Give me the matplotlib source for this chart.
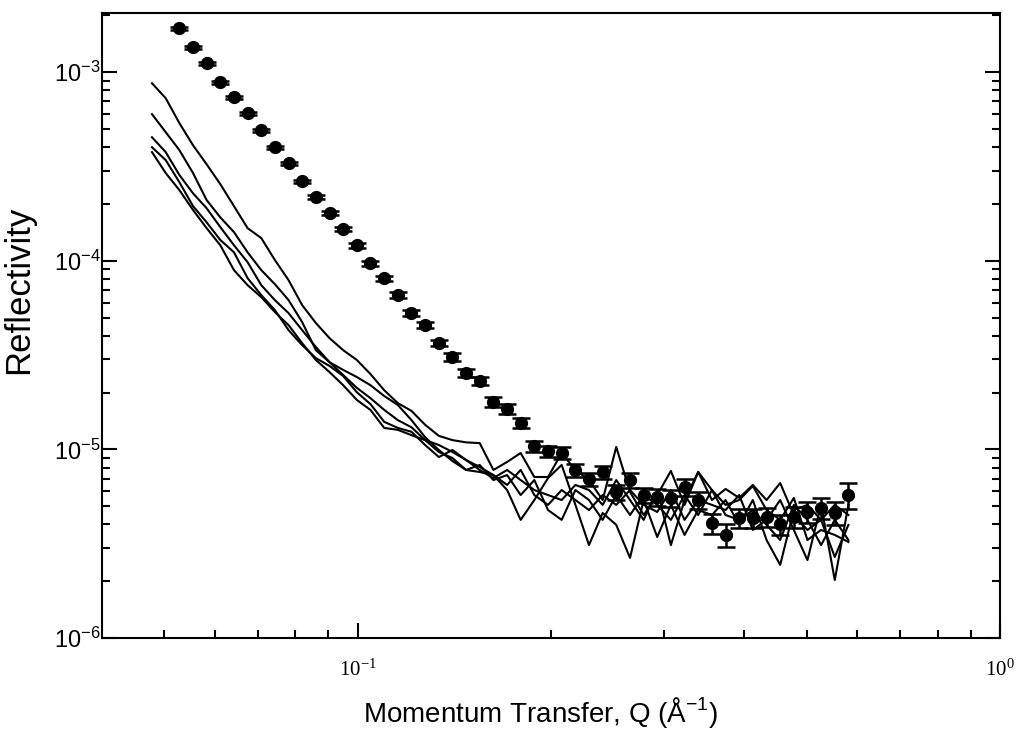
" Reflectivity vs momentum transfer, measured points and model curves "

import matplotlib
matplotlib.use("Agg")
import matplotlib.pyplot as plt

# momentum transfer grid (1/A) shared by the curves; points start at the third value
q_grid = [0.04785, 0.05026, 0.05279, 0.05543, 0.05820, 0.06112, 0.06419, 0.06740,
          0.07079, 0.07433, 0.07807, 0.08197, 0.08610, 0.09042, 0.09495, 0.09972,
          0.1047, 0.1100, 0.1155, 0.1213, 0.1274, 0.1338, 0.1405, 0.1475, 0.1549,
          0.1627, 0.1709, 0.1794, 0.1884, 0.1979, 0.2078, 0.2183, 0.2292, 0.2407,
          0.2527, 0.2655, 0.2788, 0.2927, 0.3074, 0.3228, 0.3390, 0.3561, 0.3739,
          0.3927, 0.4123, 0.4331, 0.4548, 0.4776, 0.5015, 0.5266, 0.5531, 0.5808]

# reflectivity in units of 1e-6
curve_a = [874, 728, 537, 410, 325, 255, 195, 149, 132, 101, 79.0, 58.2, 46.8, 38.9,
           33.6, 29.8, 25.1, 20.6, 17.6, 16.0, 13.5, 11.8, 11.2, 10.9, 10.8,
           7.78, 8.58, 9.57, 7.14, 7.14, 9.57, 7.78, 6.88, 5.39, 10.3, 5.95, 4.49,
           5.73, 7.69, 5.08, 7.59, 5.39, 6.17, 5.53, 6.48, 5.39, 6.63, 4.49, 3.74,
           4.23, 2.69, 3.98]
curve_b = [599, 481, 386, 292, 210, 170, 142, 111, 89.3, 75.2, 61.9, 47.3, 33.6, 29.0,
           26.4, 24.2, 21.9, 19.2, 17.2, 14.3, 11.6, 9.93, 8.68, 7.78, 7.59,
           7.31, 6.09, 4.23, 5.39, 7.05, 8.27, 5.08, 3.11, 4.60, 3.98, 2.66, 5.39,
           3.43, 5.08, 3.52, 4.77, 4.49, 5.39, 3.98, 5.39, 3.31, 2.44, 4.77, 5.08,
           4.23, 5.08, 4.49]
curve_c = [452, 377, 285, 228, 190, 151, 121, 98.4, 74.3, 61.9, 52.8, 42.9, 34.9, 29.0,
           24.8, 21.2, 18.7, 16.2, 14.3, 13.1, 11.2, 10.55, 9.69, 8.79, 7.78,
           7.05, 7.78, 6.88, 6.09, 5.73, 5.39, 6.48, 6.09, 5.08, 6.88, 5.39, 4.23,
           6.09, 3.11, 5.39, 7.59, 6.09, 5.08, 5.39, 6.40, 4.77, 4.23, 5.53, 3.31,
           3.74, 3.52, 3.23]
curve_d = [400, 342, 261, 195, 160, 129, 111, 81.0, 65.8, 54.8, 42.9, 35.7, 30.5, 27.7,
           24.5, 20.1, 17.4, 14.0, 13.0, 12.4, 10.55, 9.11, 9.93, 8.79, 8.07,
           7.31, 6.48, 7.78, 5.73, 5.08, 6.09, 5.39, 4.77, 5.73, 5.08, 6.09, 5.08,
           4.66, 6.09, 4.23, 5.39, 5.08, 4.77, 5.73, 3.74, 4.23, 5.39, 3.74, 2.59,
           5.08, 2.03, 5.08]
curve_e = [377, 292, 237, 186, 149, 121, 89.3, 74.3, 64.2, 53.5, 45.6, 36.6, 29.8, 25.7,
           21.9, 18.3, 16.2, 13.0, 12.7, 11.9, 11.2, 9.69, 9.00, 7.78, 8.27,
           6.88, 7.31, 5.73, 6.88, 4.77, 4.23, 6.09, 5.39, 4.23, 5.73, 4.49, 5.73,
           5.08, 4.23, 5.73, 4.49, 6.09, 4.49, 4.23, 4.77, 3.98, 3.31, 5.08, 4.23,
           3.11, 4.23, 3.31]

# measured reflectivity (1e-6) and its relative error
meas = [1710, 1357, 1116, 885, 737, 606, 493, 400, 329, 264, 218, 179, 147, 121,
        97.2, 81.0, 65.8, 52.8, 45.6, 36.6, 30.9, 25.4, 23.0, 17.8, 16.4, 13.8,
        10.4, 9.8, 9.57, 7.78, 6.97, 7.59, 5.94, 6.89, 5.73, 5.60, 5.52, 6.32,
        5.39, 4.07, 3.52, 4.33, 4.33, 4.39, 4.02, 4.39, 4.66, 4.89, 4.60, 5.73]
meas_rel_err = [0.02, 0.02, 0.02, 0.02, 0.02, 0.02, 0.02, 0.02, 0.02, 0.02,
                0.025, 0.025, 0.025, 0.03, 0.03, 0.03, 0.035, 0.035, 0.04, 0.04,
                0.045, 0.05, 0.05, 0.06, 0.06, 0.06, 0.07, 0.07, 0.07, 0.08,
                0.08, 0.08, 0.09, 0.09, 0.09, 0.10, 0.10, 0.10, 0.10, 0.12,
                0.14, 0.12, 0.12, 0.12, 0.12, 0.13, 0.13, 0.13, 0.14, 0.16]

y_major = [1e-6, 1e-5, 1e-4, 1e-3]
y_labels = [r"$\mathsf{10^{-6}}$", r"$\mathsf{10^{-5}}$", r"$\mathsf{10^{-4}}$",
            r"$\mathsf{10^{-3}}$"]
x_major = [0.1, 1.0]
x_labels = [r"$\mathrm{10^{-1}}$", r"$\mathrm{10^{0}}$"]

plt.rcParams["font.family"] = ["Liberation Sans", "DejaVu Sans"]
plt.rcParams["mathtext.fontset"] = "custom"
plt.rcParams["mathtext.rm"] = "Liberation Serif"
plt.rcParams["mathtext.sf"] = "Liberation Sans"

fig = plt.figure(figsize=(10.18, 7.31), dpi=100)
ax = fig.add_axes([0.1002, 0.1272, 0.8821, 0.855])

for curve in (curve_a, curve_b, curve_c, curve_d, curve_e):
    ax.plot(q_grid, [v * 1e-6 for v in curve], color="black", linewidth=1.5)

meas_r = [v * 1e-6 for v in meas]
ax.errorbar(
    q_grid[2:], meas_r,
    yerr=[r * e for r, e in zip(meas_r, meas_rel_err)],
    fmt="o", color="black", markersize=8.5,
    elinewidth=1.8, capsize=6.5, capthick=1.8,
)

ax.set_xscale("log")
ax.set_yscale("log")
ax.set_xlim(0.04, 1.0)
ax.set_ylim(1e-6, 2.06e-3)

ax.set_yticks(y_major, y_labels)
ax.set_yticks([m * d for d in (1e-6, 1e-5, 1e-4, 1e-3) for m in range(2, 10)
               if m * d < 2.06e-3], minor=True)
ax.set_xticks(x_major, x_labels)
ax.set_xticks([m * d for d in (0.01, 0.1) for m in range(2, 10)
               if 0.045 < m * d < 1.0], minor=True)
ax.yaxis.set_minor_formatter(plt.NullFormatter())
ax.xaxis.set_minor_formatter(plt.NullFormatter())

ax.tick_params(axis="y", which="both", direction="in", left=True, right=True,
               width=1.5, labelsize=17, pad=1)
ax.tick_params(axis="x", which="both", direction="in", bottom=True, top=False,
               width=1.5, labelsize=15, pad=15)
ax.tick_params(which="major", length=11)
ax.tick_params(which="minor", length=6)
for spine in ax.spines.values():
    spine.set_linewidth(1.5)

ax.set_xlabel(r"Momentum Transfer, Q (Å$^{\mathsf{-1}}$)", fontsize=20)
ax.set_ylabel("Reflectivity", fontsize=25)
ax.xaxis.set_label_coords(0.488, -0.091)
ax.yaxis.set_label_coords(-0.075, 0.557)

fig.savefig("out.png", dpi=100)
